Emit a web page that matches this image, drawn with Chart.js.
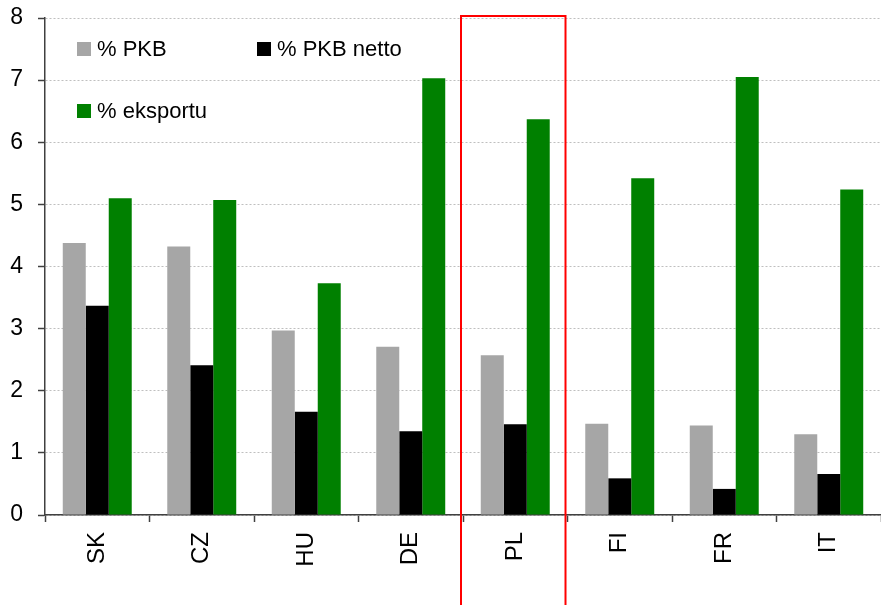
<!DOCTYPE html>
<html>
<head>
<meta charset="utf-8">
<script src="https://cdn.jsdelivr.net/npm/chart.js@4/dist/chart.umd.min.js"></script>
<style>
  html, body { margin: 0; padding: 0; background: #fff; }
  #wrap { width: 881px; height: 605px; position: relative; }
</style>
</head>
<body>
<div id="wrap"><canvas id="chart"></canvas></div>
<script>
const categories = ["SK", "CZ", "HU", "DE", "PL", "FI", "FR", "IT"];
const pkb = [4.38, 4.32, 2.97, 2.71, 2.57, 1.47, 1.44, 1.30];
const pkbNetto = [3.37, 2.41, 1.66, 1.35, 1.46, 0.59, 0.42, 0.66];
const eksport = [5.10, 5.07, 3.73, 7.03, 6.37, 5.42, 7.05, 5.24];
const seriesNames = ["% PKB", "% PKB netto", "% eksportu"];
const highlighted = "PL";

const FONT = "'Liberation Sans', Arial, sans-serif";

// legend drawn by hand: two columns, third entry on the second row
const legendSpots = [
  { x: 77, y: 49 },
  { x: 257, y: 49 },
  { x: 77, y: 111 }
];

const legendPlugin = {
  id: "manualLegend",
  afterDraw(chart) {
    const ctx = chart.ctx;
    ctx.save();
    ctx.font = "22px " + FONT;
    ctx.textBaseline = "middle";
    ctx.textAlign = "left";
    chart.data.datasets.forEach((ds, i) => {
      const p = legendSpots[i];
      ctx.fillStyle = ds.backgroundColor;
      ctx.fillRect(p.x, p.y - 7, 14, 14);
      ctx.fillStyle = "#000";
      ctx.fillText(ds.label, p.x + 20, p.y + 1);
    });
    ctx.restore();
  }
};

// red frame round the highlighted category
const framePlugin = {
  id: "frame",
  afterDraw(chart) {
    const x = chart.scales.x, y = chart.scales.y;
    const idx = categories.indexOf(highlighted);
    const half = (x.getPixelForValue(1) - x.getPixelForValue(0)) / 2;
    const c = x.getPixelForValue(idx);
    const left = c - half - 2, right = c + half - 2;
    const top = y.getPixelForValue(8) - 2;
    const bottom = chart.height + 2;
    const ctx = chart.ctx;
    ctx.save();
    ctx.strokeStyle = "#FF0000";
    ctx.lineWidth = 2;
    ctx.strokeRect(left, top, right - left, bottom - top);
    ctx.restore();
  }
};

new Chart(document.getElementById("chart"), {
  type: "bar",
  data: {
    labels: categories,
    datasets: [
      { label: seriesNames[0], data: pkb, backgroundColor: "#A6A6A6" },
      { label: seriesNames[1], data: pkbNetto, backgroundColor: "#000000" },
      { label: seriesNames[2], data: eksport, backgroundColor: "#008000" }
    ]
  },
  options: {
    responsive: true,
    maintainAspectRatio: false,
    animation: false,
    layout: { padding: { top: 18, right: 0, bottom: 0, left: 0 } },
    datasets: {
      bar: { categoryPercentage: 0.66, barPercentage: 1.0, borderWidth: 0 }
    },
    plugins: {
      legend: { display: false },
      tooltip: { enabled: false }
    },
    scales: {
      x: {
        afterFit(scale) { scale.height = 90; },
        grid: {
          display: true,
          offset: true,
          drawOnChartArea: false,
          drawTicks: true,
          tickLength: 7,
          tickColor: "#404040",
          tickWidth: 1.5
        },
        border: { display: true, color: "#404040", width: 1.5 },
        ticks: {
          color: "#000",
          font: { family: FONT, size: 24 },
          minRotation: 90,
          maxRotation: 90,
          padding: 10,
          autoSkip: false
        }
      },
      y: {
        min: 0,
        max: 8,
        afterFit(scale) {
          scale.width = 45;
          scale.paddingTop = 0;
          scale.paddingBottom = 0;
        },
        grid: {
          color: "#BFBFBF",
          lineWidth: 1,
          drawTicks: true,
          tickLength: 7,
          tickColor: "#404040",
          tickWidth: 1.5,
          tickBorderDash: []
        },
        border: { display: true, color: "#404040", width: 1.5, dash: [2, 2] },
        ticks: {
          stepSize: 1,
          color: "#000",
          font: { family: FONT, size: 23 },
          padding: 15
        }
      }
    }
  },
  plugins: [legendPlugin, framePlugin]
});
</script>
</body>
</html>
